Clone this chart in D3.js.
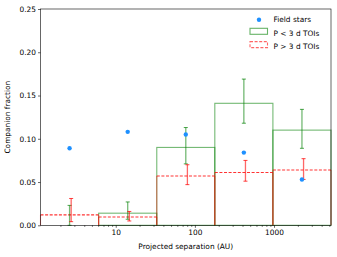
<!DOCTYPE html>
<html>
<head>
<meta charset="utf-8">
<script src="https://cdn.jsdelivr.net/npm/d3@7"></script>
<style>
  body { margin: 0; background: #fff; }
  text { font-family: "DejaVu Sans", sans-serif; fill: #000; }
</style>
</head>
<body>
<div id="chart-area"></div>
<script>
// bin edges in AU (log spaced)
var binEdges = [1.12, 6.08, 33, 178.6, 968, 5248];

var fieldFrac = [0.089, 0.108, 0.105, 0.084, 0.053];   // Field stars

var shortFrac = [0, 0.014, 0.090, 0.141, 0.110];        // P < 3 d TOIs
var shortLo   = [0, 0.007, 0.071, 0.118, 0.089];
var shortHi   = [0.023, 0.027, 0.113, 0.169, 0.134];

var longFrac = [0.012, 0.0096, 0.057, 0.061, 0.064];    // P > 3 d TOIs
var longLo   = [0.0042, 0.005, 0.047, 0.051, 0.053];
var longHi   = [0.031, 0.016, 0.070, 0.075, 0.077];

var yTicks = [0, 0.05, 0.10, 0.15, 0.20, 0.25];
var xTicks = [10, 100, 1000];

var W = 337, H = 257;
var margin = {left: 40.5, right: 6, top: 9, bottom: 31.7};

var svg = d3.select("#chart-area").append("svg")
    .attr("width", W)
    .attr("height", H);

var x = d3.scaleLog()
    .domain([binEdges[0], binEdges[binEdges.length - 1]])
    .range([margin.left, W - margin.right]);

var y = d3.scaleLinear()
    .domain([0, 0.25])
    .range([H - margin.bottom, margin.top]);

var bins = d3.range(fieldFrac.length).map(function(i) {
    return {
        x0: binEdges[i], x1: binEdges[i + 1],
        c: Math.sqrt(binEdges[i] * binEdges[i + 1]),
        field: fieldFrac[i],
        s: shortFrac[i], sLo: shortLo[i], sHi: shortHi[i],
        l: longFrac[i], lLo: longLo[i], lHi: longHi[i]
    };
});

var plot = svg.append("g");

// P < 3 d bars (green outline)
plot.selectAll(".gbar").data(bins).enter()
    .append("rect")
    .attr("x", function(d) { return x(d.x0); })
    .attr("y", function(d) { return y(d.s); })
    .attr("width", function(d) { return x(d.x1) - x(d.x0); })
    .attr("height", function(d) { return y(0) - y(d.s); })
    .attr("fill", "none")
    .attr("stroke", "#008000")
    .attr("stroke-opacity", 0.55)
    .attr("stroke-width", 1.1);

// P > 3 d bars: pale solid sides, dashed top
plot.selectAll(".rside").data(bins).enter()
    .append("path")
    .attr("d", function(d) {
        return "M" + x(d.x0) + "," + y(0) + "V" + y(d.l) +
               "M" + x(d.x1) + "," + y(0) + "V" + y(d.l);
    })
    .attr("fill", "none")
    .attr("stroke", "#ff0000")
    .attr("stroke-opacity", 0.45)
    .attr("stroke-width", 1.1);

plot.selectAll(".rtop").data(bins).enter()
    .append("line")
    .attr("x1", function(d) { return x(d.x0); })
    .attr("x2", function(d) { return x(d.x1); })
    .attr("y1", function(d) { return y(d.l); })
    .attr("y2", function(d) { return y(d.l); })
    .attr("stroke", "#ff0000")
    .attr("stroke-opacity", 0.8)
    .attr("stroke-width", 1.1)
    .attr("stroke-dasharray", "3,1.6");

// error bars
function errorBars(cls, lo, hi, color, op, dx) {
    var g = plot.selectAll("." + cls).data(bins).enter().append("g");
    g.append("line")
        .attr("x1", function(d) { return x(d.c) + dx; })
        .attr("x2", function(d) { return x(d.c) + dx; })
        .attr("y1", function(d) { return y(d[lo]); })
        .attr("y2", function(d) { return y(d[hi]); })
        .attr("stroke", color).attr("stroke-opacity", op).attr("stroke-width", 1.3);
    [lo, hi].forEach(function(k) {
        g.append("line")
            .attr("x1", function(d) { return x(d.c) + dx - 2; })
            .attr("x2", function(d) { return x(d.c) + dx + 2; })
            .attr("y1", function(d) { return y(d[k]); })
            .attr("y2", function(d) { return y(d[k]); })
            .attr("stroke", color).attr("stroke-opacity", op + 0.15).attr("stroke-width", 1);
    });
}
errorBars("gerr", "sLo", "sHi", "#008000", 0.55, 0);
errorBars("rerr", "lLo", "lHi", "#ff0000", 0.6, 1.6);

// field stars
plot.selectAll(".pt").data(bins).enter()
    .append("circle")
    .attr("cx", function(d) { return x(d.c); })
    .attr("cy", function(d) { return y(d.field); })
    .attr("r", 2.2)
    .attr("fill", "#1e90ff");

// axes
var yAxis = svg.append("g")
    .attr("transform", "translate(" + margin.left + ",0)")
    .call(d3.axisLeft(y).tickValues(yTicks).tickFormat(d3.format(".2f")).tickSize(2.5).tickPadding(2));

var xMinor = [];
[1, 10, 100, 1000].forEach(function(p) {
    for (var k = 2; k <= 9; k++) {
        var v = k * p;
        if (v > binEdges[0] && v < binEdges[binEdges.length - 1]) xMinor.push(v);
    }
});

svg.append("g")
    .attr("transform", "translate(0," + y(0) + ")")
    .call(d3.axisBottom(x).tickValues(xMinor).tickFormat("").tickSize(1.5));

var xAxis = svg.append("g")
    .attr("transform", "translate(0," + y(0) + ")")
    .call(d3.axisBottom(x).tickValues(xTicks).tickFormat(d3.format("d")).tickSize(2.5).tickPadding(2));

svg.selectAll(".domain").remove();
svg.selectAll(".tick line").attr("stroke", "#000").attr("stroke-width", 0.6);
svg.selectAll(".tick text").style("font-size", "7.4px").style("font-family", "DejaVu Sans, sans-serif");

// frame
svg.append("rect")
    .attr("x", margin.left)
    .attr("y", margin.top)
    .attr("width", W - margin.right - margin.left)
    .attr("height", H - margin.bottom - margin.top)
    .attr("fill", "none")
    .attr("stroke", "#000")
    .attr("stroke-width", 0.6);

// labels
svg.append("text")
    .attr("x", (margin.left + W - margin.right) / 2)
    .attr("y", 249)
    .attr("text-anchor", "middle")
    .style("font-size", "7.4px")
    .text("Projected separation (AU)");

svg.append("text")
    .attr("transform", "translate(10," + (margin.top + H - margin.bottom) / 2 + ") rotate(-90)")
    .attr("text-anchor", "middle")
    .style("font-size", "7.4px")
    .text("Companion fraction");

// legend
var leg = svg.append("g");
leg.append("circle").attr("cx", 259).attr("cy", 19.8).attr("r", 2.2).attr("fill", "#1e90ff");
leg.append("rect").attr("x", 250).attr("y", 28.3).attr("width", 17.5).attr("height", 6)
    .attr("fill", "none").attr("stroke", "#008000").attr("stroke-opacity", 0.6).attr("stroke-width", 1.1);
leg.append("rect").attr("x", 250).attr("y", 41.6).attr("width", 17.5).attr("height", 6)
    .attr("fill", "none").attr("stroke", "#ff0000").attr("stroke-opacity", 0.6).attr("stroke-width", 1.1)
    .attr("stroke-dasharray", "3,1.6");
var legText = ["Field stars", "P < 3 d TOIs", "P > 3 d TOIs"];
leg.selectAll(".lt").data(legText).enter().append("text")
    .attr("x", 273.5)
    .attr("y", function(d, i) { return 22.3 + i * 13.3; })
    .style("font-size", "7.4px")
    .text(function(d) { return d; });
</script>
</body>
</html>
